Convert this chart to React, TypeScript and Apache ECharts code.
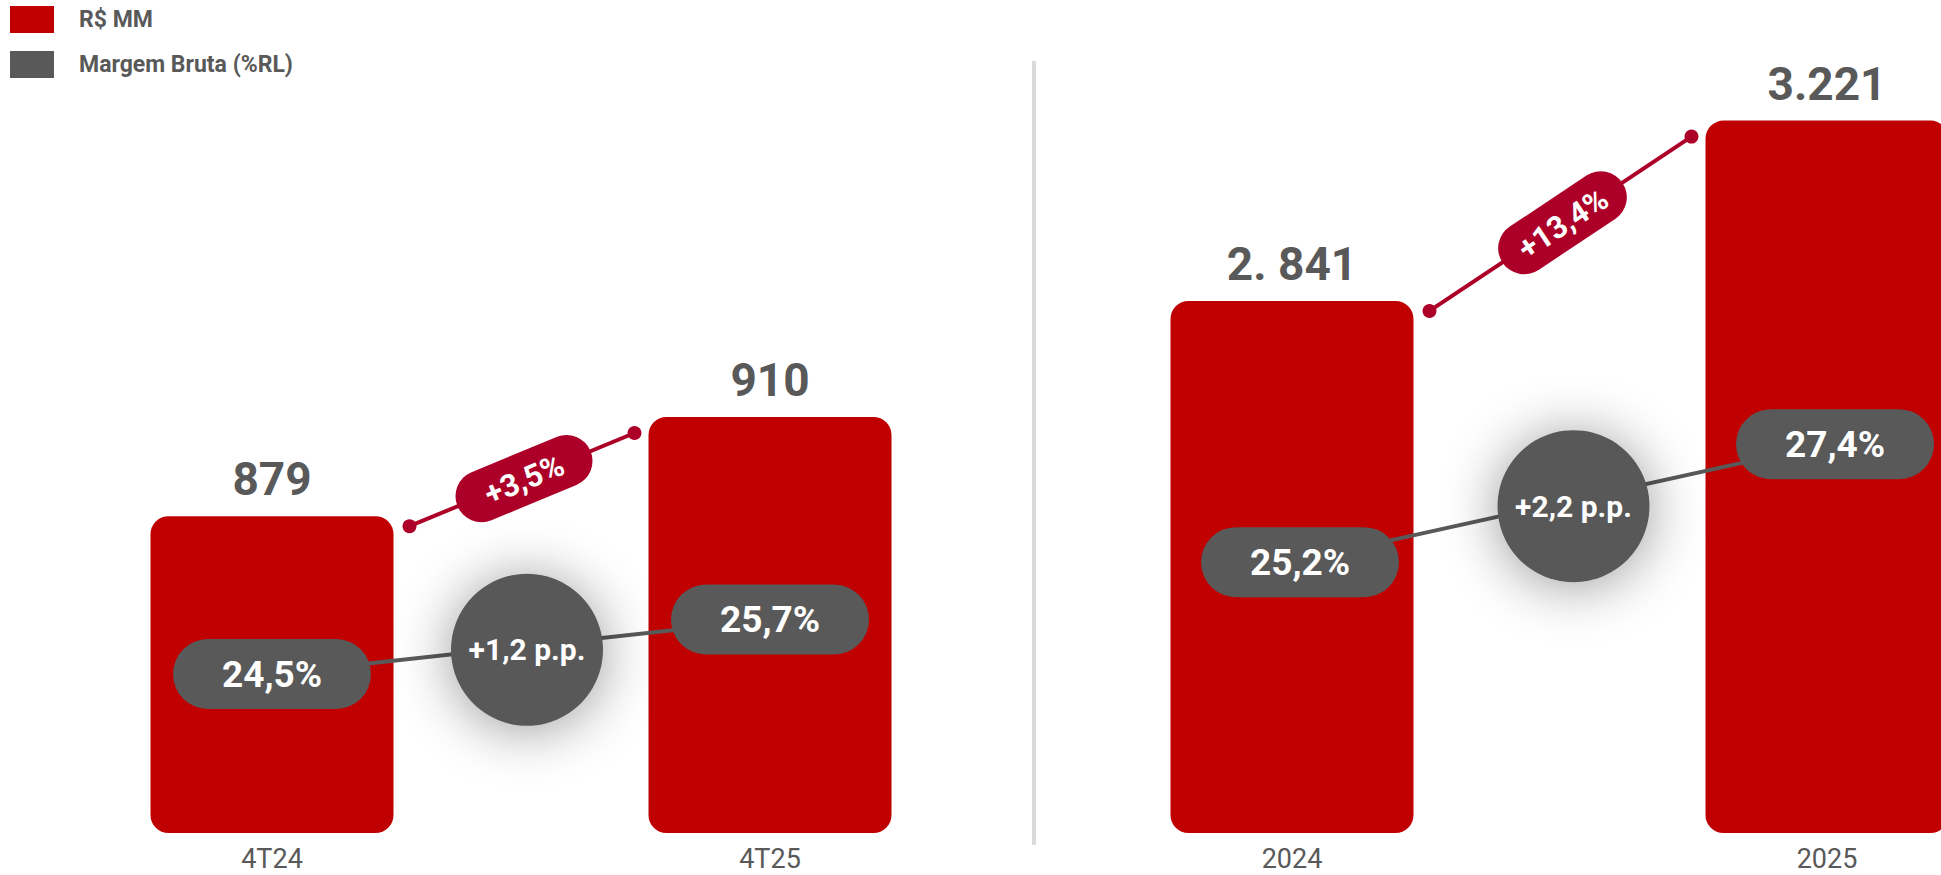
import React, { useEffect, useRef } from "react";
import * as echarts from "echarts";

// ---- Data ----
const quarterCategories = ["4T24", "4T25"];
const quarterRevenue = [879, 910];
const quarterRevenueLabels = ["879", "910"];
const quarterMargin = [24.5, 25.7];
const quarterMarginLabels = ["24,5%", "25,7%"];
const quarterGrowthLabel = "+3,5%";
const quarterMarginDeltaLabel = "+1,2 p.p.";

const yearCategories = ["2024", "2025"];
const yearRevenue = [2841, 3221];
const yearRevenueLabels = ["2. 841", "3.221"];
const yearMargin = [25.2, 27.4];
const yearMarginLabels = ["25,2%", "27,4%"];
const yearGrowthLabel = "+13,4%";
const yearMarginDeltaLabel = "+2,2 p.p.";

const legendNames = ["R$ MM", "Margem Bruta (%RL)"];

// ---- Styles ----
const RED = "#C00000";
const CRIMSON = "#AD0029";
const GREY = "#595959";
const FONT = "Roboto";
const BAR_W = 243;

export default function App() {
  const ref = useRef<HTMLDivElement>(null);

  useEffect(() => {
    if (!ref.current) return;
    const chart = echarts.init(ref.current, null, { renderer: "svg" });

    const barSeries = (xi: number, yi: number, data: number[], labels: string[]) => ({
      name: legendNames[0],
      type: "bar",
      xAxisIndex: xi,
      yAxisIndex: yi,
      data,
      barWidth: BAR_W,
      silent: true,
      itemStyle: { color: RED, borderRadius: 18 },
      label: {
        show: true,
        position: "top",
        distance: 14,
        formatter: (p: any) => labels[p.dataIndex],
        fontSize: 46,
        fontWeight: "bold",
        color: GREY,
        fontFamily: FONT,
      },
    });

    const lineSeries = (xi: number, yi: number, data: number[], labels: string[], dx: number) => ({
      name: legendNames[1],
      type: "line",
      xAxisIndex: xi,
      yAxisIndex: yi,
      data,
      silent: true,
      color: GREY,
      itemStyle: { color: GREY },
      lineStyle: { color: GREY, width: 4 },
      symbol: "circle",
      symbolSize: 2,
      z: 4,
      label: {
        show: true,
        position: "inside",
        offset: [dx, 0],
        formatter: (p: any) => labels[p.dataIndex],
        backgroundColor: GREY,
        borderRadius: 35,
        width: 198,
        height: 70,
        lineHeight: 70,
        align: "center",
        verticalAlign: "middle",
        color: "#FFFFFF",
        fontSize: 37,
        fontWeight: "bold",
        fontFamily: FONT,
      },
    });

    const catAxis = (gi: number, data: string[]) => ({
      type: "category",
      gridIndex: gi,
      data,
      axisLine: { show: false },
      axisTick: { show: false },
      axisLabel: { color: GREY, fontSize: 27, fontFamily: FONT, margin: 12 },
      splitLine: { show: false },
    });

    const valAxis = (gi: number, min: number, max: number) => ({
      type: "value",
      gridIndex: gi,
      min,
      max,
      show: false,
      splitLine: { show: false },
    });

    chart.setOption({
      animation: false,
      backgroundColor: "#FFFFFF",
      textStyle: { fontFamily: FONT },
      legend: {
        orient: "vertical",
        left: 10,
        top: 6,
        padding: 0,
        itemWidth: 44,
        itemHeight: 27,
        itemGap: 18,
        icon: "rect",
        selectedMode: false,
        data: legendNames,
        textStyle: {
          color: GREY,
          fontSize: 23,
          fontWeight: "bold",
          fontFamily: FONT,
          padding: [0, 0, 0, 20],
        },
      },
      grid: [
        { left: 23, width: 996, top: 129, height: 704 },
        { left: 1024.5, width: 1070, top: 73.6, height: 759.4 },
      ],
      xAxis: [catAxis(0, quarterCategories), catAxis(1, yearCategories)],
      yAxis: [
        valAxis(0, 780, 1000),
        valAxis(1, 1720, 3320),
        valAxis(0, 21, 36.5),
        valAxis(1, 20.15, 34.31),
      ],
      series: [
        barSeries(0, 0, quarterRevenue, quarterRevenueLabels),
        barSeries(1, 1, yearRevenue, yearRevenueLabels),
        lineSeries(0, 2, quarterMargin, quarterMarginLabels, 0),
        lineSeries(1, 3, yearMargin, yearMarginLabels, 8),
      ],
    });

    const panels = [
      { bar: 0, line: 2, rev: quarterRevenue, margin: quarterMargin, growth: quarterGrowthLabel, delta: quarterMarginDeltaLabel, dx: 0 },
      { bar: 1, line: 3, rev: yearRevenue, margin: yearMargin, growth: yearGrowthLabel, delta: yearMarginDeltaLabel, dx: 8 },
    ];

    const graphics: any[] = [
      {
        type: "line",
        shape: { x1: 1034, y1: 61, x2: 1034, y2: 845 },
        style: { stroke: "#DADADA", lineWidth: 4 },
        silent: true,
      },
    ];

    panels.forEach((pn) => {
      const b0 = chart.convertToPixel({ seriesIndex: pn.bar }, [0, pn.rev[0]]) as number[];
      const b1 = chart.convertToPixel({ seriesIndex: pn.bar }, [1, pn.rev[1]]) as number[];
      const sx = b0[0] + BAR_W / 2 + 16;
      const sy = b0[1] + 10;
      const ex = b1[0] - BAR_W / 2 - 14;
      const ey = b1[1] + 16;
      const mx = (sx + ex) / 2 + 2;
      const my = (sy + ey) / 2 - 1;
      const ang = Math.atan2(sy - ey, ex - sx);
      graphics.push(
        { type: "line", z: 10, silent: true, shape: { x1: sx, y1: sy, x2: ex, y2: ey }, style: { stroke: CRIMSON, lineWidth: 4 } },
        { type: "circle", z: 10, silent: true, shape: { cx: sx, cy: sy, r: 7 }, style: { fill: CRIMSON } },
        { type: "circle", z: 10, silent: true, shape: { cx: ex, cy: ey, r: 7 }, style: { fill: CRIMSON } },
        {
          type: "rect",
          z: 11,
          silent: true,
          x: mx,
          y: my,
          rotation: ang,
          shape: { x: -72, y: -26, width: 144, height: 52, r: 26 },
          style: { fill: CRIMSON },
        },
        {
          type: "text",
          z: 12,
          silent: true,
          x: mx,
          y: my,
          rotation: ang,
          style: {
            text: pn.growth,
            x: 0,
            y: 1,
            align: "center",
            verticalAlign: "middle",
            fill: "#FFFFFF",
            fontSize: 31,
            fontWeight: "bold",
            fontFamily: FONT,
          },
        }
      );

      const m0 = chart.convertToPixel({ seriesIndex: pn.line }, [0, pn.margin[0]]) as number[];
      const m1 = chart.convertToPixel({ seriesIndex: pn.line }, [1, pn.margin[1]]) as number[];
      const cx = (m0[0] + m1[0]) / 2 + 6 + pn.dx;
      const cy = (m0[1] + m1[1]) / 2 + 3;
      graphics.push(
        {
          type: "circle",
          z: 12,
          silent: true,
          shape: { cx, cy, r: 76 },
          style: { fill: GREY, shadowBlur: 55, shadowColor: "rgba(0,0,0,0.4)", shadowOffsetY: 4 },
        },
        {
          type: "text",
          z: 13,
          silent: true,
          style: {
            text: pn.delta,
            x: cx,
            y: cy,
            align: "center",
            verticalAlign: "middle",
            fill: "#FFFFFF",
            fontSize: 30,
            fontWeight: "bold",
            fontFamily: FONT,
          },
        }
      );
    });

    chart.setOption({ graphic: graphics });

    return () => chart.dispose();
  }, []);

  return (
    <div
      ref={ref}
      style={{ position: "fixed", left: 0, top: 0, width: 2100, height: 875, background: "#FFFFFF" }}
    />
  );
}
